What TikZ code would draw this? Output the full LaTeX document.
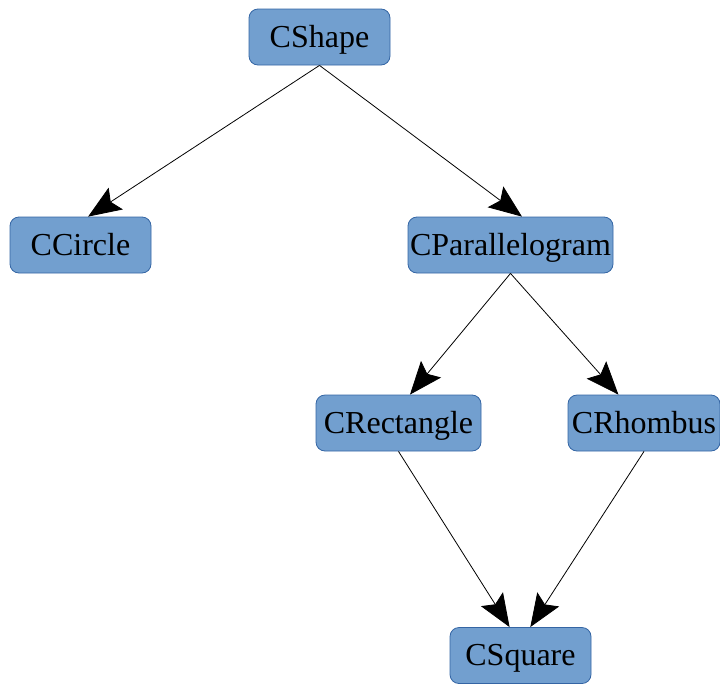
\documentclass[tikz,border=0pt]{standalone}
\usepackage{fontspec}
\setmainfont{Liberation Serif}
\usetikzlibrary{arrows.meta,calc}

\definecolor{boxfill}{HTML}{729FCF}
\definecolor{boxline}{HTML}{3465A4}

\tikzset{
  classbox/.style={draw=boxline, fill=boxfill, line width=0.8pt,
    rounded corners=9pt, minimum height=56pt, inner sep=0pt,
    text height=20pt, text depth=0pt,
    font=\fontsize{32}{36}\selectfont},
  inherit/.style={draw=black, line width=0.8pt,
    -{Stealth[length=33pt,width=26pt,inset=6pt]}}
}

\begin{document}
\begin{tikzpicture}[x=1pt,y=-1pt]
  \useasboundingbox (0,0) rectangle (720,683);

  % Class boxes
  \node[classbox, minimum width=141pt] (shape) at (319.5,37) {CShape};
  \node[classbox, minimum width=141pt] (circle) at (80.5,245) {CCircle};
  \node[classbox, minimum width=205pt] (para) at (510.5,245) {CParallelogram};
  \node[classbox, minimum width=165pt] (rect) at (398.5,423) {CRectangle};
  \node[classbox, minimum width=152pt] (rhomb) at (644,423) {CRhombus};
  \node[classbox, minimum width=141pt] (square) at (520.5,655.5) {CSquare};

  % Inheritance arrows
  \draw[inherit] (shape.south) -- (circle.75);
  \draw[inherit] (shape.south) -- (para.68);
  \draw[inherit] (para.south) -- (rect.68);
  \draw[inherit] (para.south) -- (rhomb.132);
  \draw[inherit] (rect.south) -- (square.111);
  \draw[inherit] (rhomb.south) -- (square.71);
\end{tikzpicture}
\end{document}
